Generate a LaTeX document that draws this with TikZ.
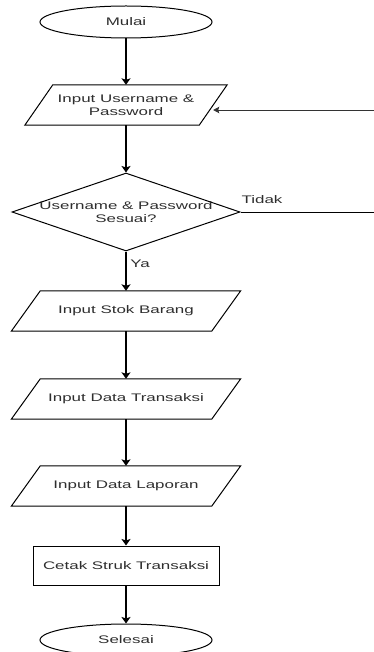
\documentclass[tikz,border=0pt]{standalone}
\usepackage{fontspec}
\setmainfont{Liberation Sans}[FakeStretch=1.54]
\usetikzlibrary{shapes.geometric,arrows.meta,calc}
\definecolor{txtc}{rgb}{0.18,0.18,0.18}
% outline of an input/output box drawn around a named rectangle node
\newcommand\ioframe[2]{%
  \draw[outline] ([xshift=#2]#1.north west) -- ([xshift=#2]#1.north east)
    -- ([xshift=-#2]#1.south east) -- ([xshift=-#2]#1.south west) -- cycle;}
\begin{document}
\begin{tikzpicture}[x=1pt,y=-1pt,
  every node/.style={font=\fontsize{11}{13}\selectfont, text=txtc},
  outline/.style={draw=black, line width=1pt, line join=miter},
  terminal/.style={ellipse, outline, minimum width=172pt, minimum height=32pt, inner sep=0pt},
  iobox/.style={rectangle, minimum height=40pt, inner sep=0pt, align=center},
  procbox/.style={rectangle, outline, minimum width=186pt, minimum height=39pt, inner sep=0pt},
  decision/.style={diamond, outline, minimum width=228pt, minimum height=78pt, inner sep=0pt},
  flow/.style={-{Stealth[length=6.5pt,width=9pt,inset=1.5pt]}, line width=1.4pt, draw=black},
  backflow/.style={-{Stealth[length=6pt,width=6.5pt,inset=1pt]}, line width=0.9pt, draw=black!80},
  plainline/.style={line width=0.9pt, draw=black}]
\useasboundingbox (0,0) rectangle (374,652);

% shapes of the flow
\node[terminal] (mulai) at (126,22) {Mulai};
\node[iobox, minimum width=174pt] (login) at (126,105) {Input Username \&\\Password};
\ioframe{login}{14pt}
\node[decision] (cek) at (126,212) {};
\node[align=center] (cektext) at (cek.center) {Username \& Password\\Sesuai?};
\node[iobox, minimum width=200pt] (stok) at (126,311) {Input Stok Barang};
\ioframe{stok}{14.5pt}
\node[iobox, minimum width=200pt] (transaksi) at (126,399) {Input Data Transaksi};
\ioframe{transaksi}{14.5pt}
\node[iobox, minimum width=200pt] (laporan) at (126,486) {Input Data Laporan};
\ioframe{laporan}{14.5pt}
\node[procbox] (cetak) at (126,565.5) {Cetak Struk Transaksi};
\node[terminal] (selesai) at (126,640) {Selesai};

% main flow
\draw[flow] (mulai) -- (login);
\draw[flow] (login) -- (cek.north);
\draw[flow] (cek.south) -- (stok);
\draw[flow] (stok) -- (transaksi);
\draw[flow] (transaksi) -- (laporan);
\draw[flow] (laporan) -- (cetak);
\draw[flow] (cetak) -- (selesai);

% branch when the login check fails
\coordinate (tidakend) at (374,212);
\coordinate (kembali) at (374,110);
\draw[plainline] (cek.east) -- (tidakend);
\draw[backflow] (kembali) -- (kembali -| login.east);

% branch labels
\node (tidak) at (262,200) {Tidak};
\node (ya) at (140,263.5) {Ya};
\end{tikzpicture}
\end{document}
